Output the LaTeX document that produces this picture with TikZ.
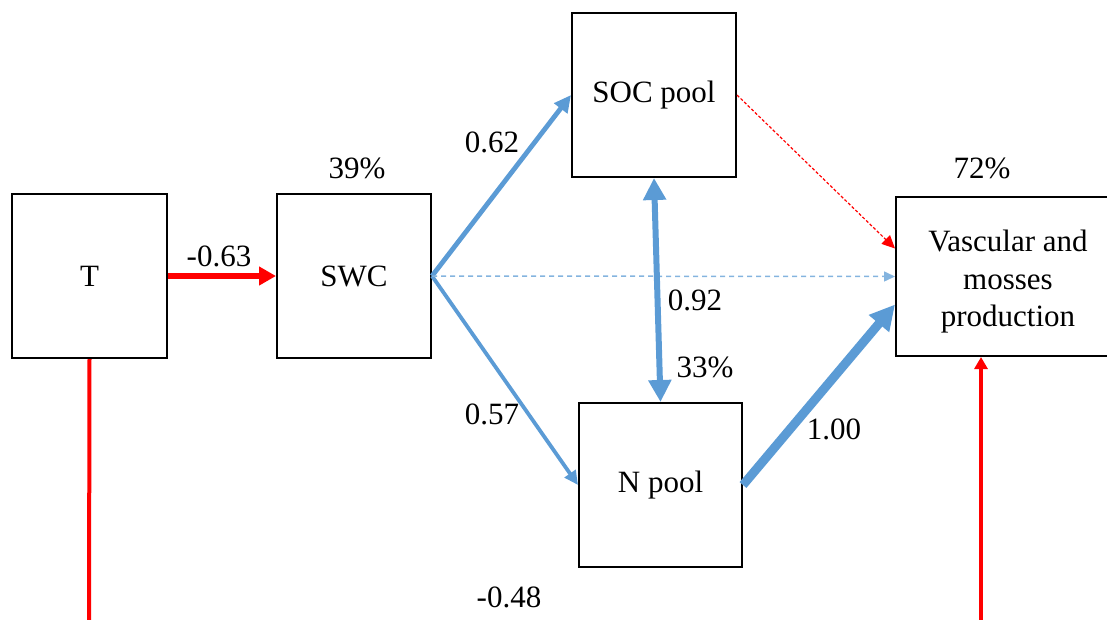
\documentclass[tikz,border=0pt]{standalone}
\usepackage{fontspec}
\setmainfont{Liberation Serif}
\usetikzlibrary{arrows.meta,calc}
\definecolor{pathblue}{HTML}{5B9BD5}
\definecolor{pathred}{HTML}{FF0000}
\begin{document}
\begin{tikzpicture}[x=1pt,y=-1pt,
  varbox/.style={draw=black,line width=2pt,inner sep=0pt,align=center,
    font=\fontsize{31}{37.5}\selectfont},
  coef/.style={inner sep=0pt,font=\fontsize{31}{37.5}\selectfont},
  redpath/.style={draw=pathred,line width=6pt,-{Triangle[length=17pt,width=18pt]}},
  bluepath/.style={draw=pathblue},
]
\useasboundingbox (0,0) rectangle (1107,619);

% variables
\node[varbox,minimum width=155pt,minimum height=164pt] (t)    at (89.5,276) {T};
\node[varbox,minimum width=154pt,minimum height=164pt] (swc)  at (354,276)  {SWC};
\node[varbox,minimum width=164pt,minimum height=164pt] (soc)  at (654,95)   {SOC pool};
\node[varbox,minimum width=163pt,minimum height=164pt] (npool) at (660.5,485) {N pool};
\node[varbox,minimum width=224pt,minimum height=159pt] (veg)  at (1008,276.5)
  {\raisebox{-5pt}[\height][\depth]{\begin{tabular}{@{}c@{}}Vascular and\\mosses\\production\end{tabular}}};

% free ends of the paths leaving the frame
\coordinate (tout) at (89,625);
\coordinate (vin)  at (981,625);

% paths
\draw[redpath] (t.east) -- (swc.west);
\draw[bluepath,line width=4.8pt,-{Triangle[length=17pt,width=16pt]}] (swc.east) -- (soc.west);
\draw[bluepath,line width=3.8pt,-{Triangle[length=14pt,width=13pt]}] (swc.east) -- (npool.west);
\draw[draw=pathblue!75,line width=1.5pt,dash pattern=on 5pt off 4pt,
      -{Triangle[length=11pt,width=10pt]}] (swc.east) -- (veg.west);
\draw[draw=pathred,line width=1.2pt,dash pattern=on 3pt off 2pt,
      -{Triangle[length=13pt,width=12pt]}] (soc.east) -- ($(veg.west)+(0,-28)$);
\draw[bluepath,line width=6pt,{Triangle[length=22pt,width=22pt]}-{Triangle[length=22pt,width=22pt]}]
      (soc.south) -- (npool.north);
\draw[bluepath,line width=9pt,-{Triangle[length=25pt,width=25pt]}] (npool.east) -- ($(veg.west)+(0,28)$);
\draw[draw=pathred,line width=4pt] (t.south) -- (tout);
\draw[draw=pathred,line width=4pt,-{Triangle[length=12pt,width=13pt]}] (vin) -- (vin |- veg.south);

% coefficients and explained variance
\node[coef] (c1) at (219,256) {-0.63};
\node[coef] (c2) at (357,168) {39\%};
\node[coef] (c3) at (492,142) {0.62};
\node[coef] (c4) at (492,414) {0.57};
\node[coef] (c5) at (695,300) {0.92};
\node[coef] (c6) at (705,367) {33\%};
\node[coef] (c7) at (834,429) {1.00};
\node[coef] (c8) at (982,168) {72\%};
\node[coef] (c9) at (509,597) {-0.48};
\end{tikzpicture}
\end{document}
